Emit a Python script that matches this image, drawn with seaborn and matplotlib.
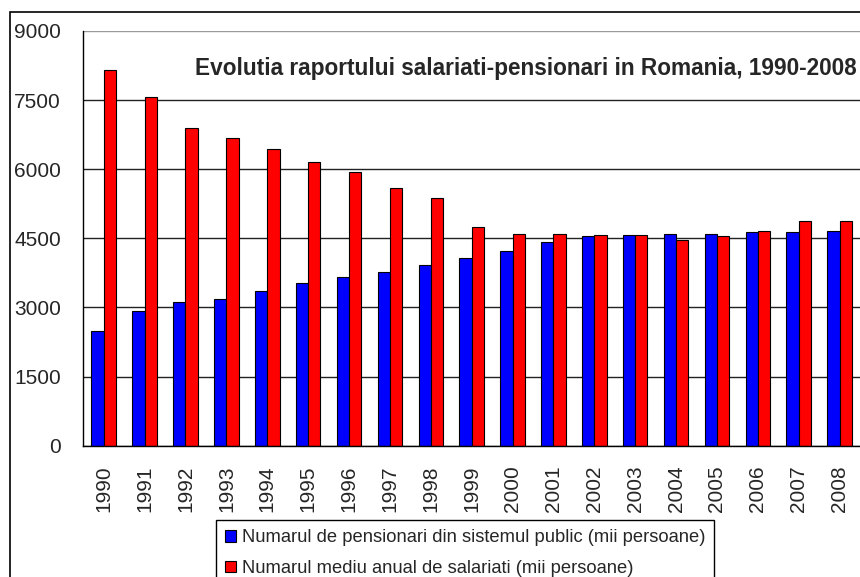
import numpy as np
import pandas as pd
import matplotlib
matplotlib.use("Agg")
import matplotlib.pyplot as plt
from matplotlib.patches import Rectangle
import seaborn as sns

# date (mii persoane)
ani = ["1990", "1991", "1992", "1993", "1994", "1995", "1996", "1997", "1998", "1999",
       "2000", "2001", "2002", "2003", "2004", "2005", "2006", "2007", "2008"]
pensionari = [2497, 2931, 3120, 3178, 3365, 3526, 3656, 3778, 3923, 4082,
              4234, 4416, 4546, 4574, 4603, 4603, 4639, 4639, 4668]
salariati = [8156, 7574, 6890, 6687, 6435, 6155, 5936, 5595, 5370, 4755,
             4596, 4596, 4574, 4574, 4466, 4546, 4668, 4885, 4885]

lab_pens = "Numarul de pensionari din sistemul public (mii persoane)"
lab_sal = "Numarul mediu anual de salariati (mii persoane)"
titlu = "Evolutia raportului salariati-pensionari in Romania, 1990-2008"

df = pd.DataFrame({
    "An": ani + ani,
    "Valoare": pensionari + salariati,
    "Serie": [lab_pens] * len(ani) + [lab_sal] * len(ani),
})

sns.set_style("white")
plt.rcParams["font.family"] = ["Liberation Sans", "DejaVu Sans"]

fig = plt.figure(figsize=(8.6, 5.77), dpi=100)
ax = fig.add_axes([83.3 / 860, 131.3 / 577, 1 - 83.3 / 860, (445.7 - 31) / 577])

sns.barplot(data=df, x="An", y="Valoare", hue="Serie",
            palette=["#0000FF", "#FF0000"], saturation=1,
            width=0.6, gap=0, edgecolor="black", linewidth=0.8, ax=ax)

ax.set_xlim(-0.5, 18.14)
ax.set_ylim(0, 9000)
ax.set_yticks(np.arange(0, 9001, 1500))
ax.set_xlabel("")
ax.set_ylabel("")

ax.set_xticks(np.arange(-0.5, 19, 1), minor=True)
ax.tick_params(axis="x", which="major", length=0, pad=14, labelsize=15, labelrotation=90)
ax.tick_params(axis="x", which="minor", length=7, width=1, color="black", direction="out")
ax.tick_params(axis="y", length=7, width=1, color="black", direction="out", pad=9, labelsize=15)

ax.grid(axis="y", color="#222222", lw=1)
ax.set_axisbelow(True)
ax.get_ygridlines()[-1].set_color("#999999")
for s in ["top", "right"]:
    ax.spines[s].set_visible(False)
for s in ["left", "bottom"]:
    ax.spines[s].set_color("black")
    ax.spines[s].set_linewidth(1)

handles, labels = ax.get_legend_handles_labels()
leg = ax.legend(handles, labels, loc="upper left",
                bbox_to_anchor=(216 / 860, (577 - 520) / 577), bbox_transform=fig.transFigure,
                frameon=True, fancybox=False, edgecolor="black", framealpha=1,
                fontsize=13.2, handlelength=0.6, handleheight=0.6, handletextpad=0.3,
                borderpad=0.5, labelspacing=0.75, borderaxespad=0)
leg.get_frame().set_linewidth(1)

fig.text(857 / 860, (577 - 68) / 577, titlu, ha="right", va="center",
         fontsize=16.3, fontweight="bold")

# chenarul exterior
fig.add_artist(Rectangle((10 / 860, -0.5), 2, (577 - 12) / 577 + 0.5,
                         transform=fig.transFigure, fill=False, edgecolor="black", lw=1.2))

fig.savefig("out.png", dpi=100)
